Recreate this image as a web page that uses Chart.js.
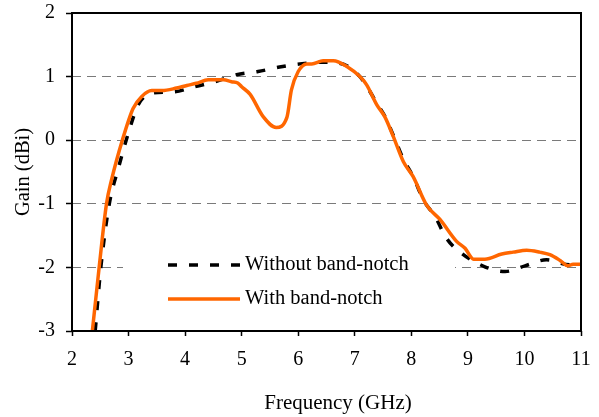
<!DOCTYPE html>
<html>
<head>
<meta charset="utf-8">
<script src="https://cdn.jsdelivr.net/npm/chart.js@4.4.1/dist/chart.umd.min.js"></script>
<style>
    html, body { margin: 0; padding: 0; background: #fff; }
    #wrap { width: 599px; height: 417px; }
</style>
</head>
<body>
<div id="wrap"><canvas id="gainChart" width="599" height="417"></canvas></div>
<script>
// Gain vs frequency
const freqWithout = [2.41, 2.51, 2.66, 2.82, 3.03, 3.17, 3.41, 3.79, 4.17, 4.53, 4.91, 5.29, 5.67, 6.03, 6.41, 6.62, 6.86, 7.09, 7.21, 7.39, 7.53, 7.68, 7.86, 8.03, 8.22, 8.42, 8.62, 8.89, 9.30, 9.66, 10.01, 10.39, 10.80, 11.0];
const gainWithout = [-3, -2, -1, -0.44, 0.21, 0.555, 0.74, 0.76, 0.84, 0.92, 1.03, 1.08, 1.15, 1.20, 1.225, 1.22, 1.17, 1.00, 0.85, 0.58, 0.38, 0.08, -0.30, -0.57, -0.95, -1.20, -1.54, -1.78, -1.99, -2.065, -1.975, -1.88, -1.96, -1.95];

const freqWith = [2.36, 2.48, 2.61, 2.70, 2.89, 3.08, 3.23, 3.41, 3.59, 3.85, 4.03, 4.20, 4.41, 4.68, 4.82, 4.93, 5.00, 5.15, 5.38, 5.61, 5.80, 5.88, 6.00, 6.15, 6.24, 6.44, 6.62, 6.86, 7.09, 7.21, 7.39, 7.53, 7.68, 7.86, 8.03, 8.27, 8.51, 8.80, 8.95, 9.10, 9.30, 9.60, 9.80, 10.04, 10.27, 10.45, 10.63, 10.77, 10.86, 11.0];
const gainWith = [-3, -2, -1, -0.62, 0, 0.50, 0.685, 0.78, 0.78, 0.82, 0.86, 0.895, 0.95, 0.95, 0.92, 0.90, 0.84, 0.72, 0.37, 0.20, 0.36, 0.79, 1.08, 1.20, 1.20, 1.25, 1.25, 1.16, 1.00, 0.87, 0.555, 0.37, 0.06, -0.34, -0.57, -1.02, -1.25, -1.59, -1.70, -1.87, -1.87, -1.79, -1.76, -1.73, -1.76, -1.80, -1.89, -1.975, -1.95, -1.95];

const seriesNames = ['Without band-notch', 'With band-notch'];
const seriesColors = ['#000000', '#ff6600'];
const xTitle = 'Frequency (GHz)';
const yTitle = 'Gain (dBi)';

const FONT = '"Liberation Serif", "Times New Roman", serif';
const DASH = [9, 12];

function toPoints(xs, ys) {
    return xs.map((x, i) => ({ x: x, y: ys[i] }));
}

// frame round the plot area, legend box inside it, x axis title
const framePlugin = {
    id: 'frame',
    beforeDatasetsDraw(chart) {
        const ctx = chart.ctx;
        ctx.save();
        ctx.fillStyle = '#fff';
        ctx.fillRect(123, 240, 332, 78);
        ctx.restore();
    },
    afterDatasetsDraw(chart) {
        const ctx = chart.ctx;
        const a = chart.chartArea;
        ctx.save();
        ctx.strokeStyle = '#000';
        ctx.lineWidth = 2;
        ctx.setLineDash([]);
        ctx.strokeRect(a.left, a.top, a.right - a.left, a.bottom - a.top);

        // legend
        const rows = [265, 299];
        ctx.font = '20.5px ' + FONT;
        ctx.textBaseline = 'middle';
        ctx.textAlign = 'left';
        rows.forEach((y, i) => {
            ctx.beginPath();
            ctx.lineWidth = 3.5;
            ctx.strokeStyle = seriesColors[i];
            ctx.setLineDash(i === 0 ? DASH : []);
            ctx.moveTo(168, y);
            ctx.lineTo(240, y);
            ctx.stroke();
            ctx.fillStyle = '#000';
            ctx.fillText(seriesNames[i], 245, y);
        });

        // x title sits a bit right of the axis centre in the original
        ctx.font = '21px ' + FONT;
        ctx.textAlign = 'center';
        ctx.fillText(xTitle, 338, 403);
        ctx.restore();
    }
};

Chart.defaults.font.family = FONT;
Chart.defaults.font.size = 20;
Chart.defaults.color = '#000';

new Chart(document.getElementById('gainChart'), {
    type: 'scatter',
    data: {
        datasets: [
            {
                label: seriesNames[0],
                data: toPoints(freqWithout, gainWithout),
                showLine: true,
                borderColor: seriesColors[0],
                borderWidth: 3.5,
                borderDash: DASH,
                pointRadius: 0,
                cubicInterpolationMode: 'monotone',
                order: 2
            },
            {
                label: seriesNames[1],
                data: toPoints(freqWith, gainWith),
                showLine: true,
                borderColor: seriesColors[1],
                borderWidth: 3.5,
                pointRadius: 0,
                cubicInterpolationMode: 'monotone',
                order: 1
            }
        ]
    },
    options: {
        responsive: false,
        animation: false,
        devicePixelRatio: 1,
        layout: { padding: { top: 13, right: 18, left: 0, bottom: 0 } },
        plugins: { legend: { display: false }, tooltip: { enabled: false } },
        scales: {
            x: {
                type: 'linear',
                min: 2, max: 11,
                ticks: { stepSize: 1, padding: 8, font: { size: 20, lineHeight: 1.6 } },
                grid: { drawOnChartArea: false, tickLength: 5, tickColor: '#000', tickWidth: 1.5 },
                border: { display: false },
                afterFit(scale) { scale.height = 86; }
            },
            y: {
                min: -3, max: 2,
                ticks: { stepSize: 1, padding: 11, font: { size: 20, lineHeight: 0.1 } },
                grid: {
                    color: c => (c.tick && (c.tick.value === 2 || c.tick.value === -3)) ? 'rgba(0,0,0,0)' : '#7a7a7a',
                    lineWidth: 1,
                    tickLength: 6,
                    tickColor: '#000',
                    tickWidth: 1.5,
                    tickBorderDash: []
                },
                border: { display: false, dash: [9, 6] },
                title: { display: true, text: yTitle, font: { size: 20.5 }, padding: { top: 11, bottom: 0 } },
                afterFit(scale) { scale.width = 72; }
            }
        }
    },
    plugins: [framePlugin]
});
</script>
</body>
</html>
